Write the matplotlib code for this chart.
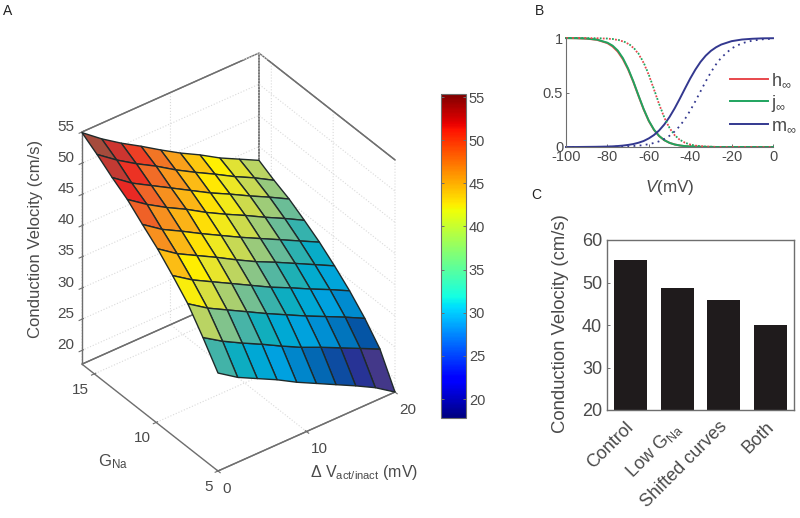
import matplotlib
matplotlib.use('Agg')
import matplotlib.pyplot as plt
from matplotlib.colors import LinearSegmentedColormap, Normalize
from matplotlib.cm import ScalarMappable
from matplotlib.transforms import ScaledTranslation
from mpl_toolkits.mplot3d import proj3d
import numpy as np

plt.rcParams['font.family'] = ['Liberation Sans', 'DejaVu Sans']
plt.rcParams['mathtext.fontset'] = 'custom'
plt.rcParams['mathtext.rm'] = 'Liberation Sans'
plt.rcParams['mathtext.it'] = 'Liberation Sans:italic'
plt.rcParams['mathtext.default'] = 'rm'
plt.rcParams['axes.unicode_minus'] = False
plt.rcParams['grid.linestyle'] = ':'
plt.rcParams['grid.color'] = '#dadada'
plt.rcParams['grid.linewidth'] = 0.8

# panel A, rows go from low GNa to high GNa
delta_v = [0, 2.22, 4.44, 6.67, 8.89, 11.11, 13.33, 15.56, 17.78, 20]
g_na = [5, 6.22, 7.44, 8.67, 9.89, 11.11, 12.33, 13.56, 14.78, 16]
velocity = [
    [33.5, 31.4, 29.8, 28.2, 26.4, 24.8, 23.2, 21.6, 19.9, 17.8],
    [37.3, 35.3, 33.6, 32.0, 30.3, 28.7, 27.3, 25.8, 24.3, 22.8],
    [40.8, 38.7, 37.0, 35.3, 33.6, 32.0, 30.4, 28.9, 27.4, 25.8],
    [43.4, 41.3, 39.6, 37.9, 36.2, 34.5, 33.0, 31.4, 29.9, 28.3],
    [45.8, 43.6, 41.9, 40.2, 38.4, 36.7, 35.2, 33.6, 32.0, 30.4],
    [47.8, 45.6, 43.9, 42.1, 40.4, 38.7, 37.1, 35.5, 33.9, 32.3],
    [49.9, 47.7, 45.8, 44.1, 42.2, 40.5, 38.9, 37.2, 35.6, 33.9],
    [51.5, 49.2, 47.4, 45.6, 43.8, 42.0, 40.4, 38.7, 37.1, 35.4],
    [53.3, 51.0, 49.0, 47.2, 45.2, 43.4, 41.7, 39.9, 38.3, 36.5],
    [54.9, 52.5, 50.4, 48.5, 46.5, 44.6, 42.9, 41.0, 39.4, 37.8],
]

# panel B
v_mv = [-100, -95, -90, -85, -80, -77.5, -75, -72.5, -70, -67.5, -65, -62.5, -60, -57.5, -55,
        -52.5, -50, -47.5, -45, -42.5, -40, -37.5, -35, -32.5, -30, -27.5, -25, -20, -15, -10, -5, 0]
h_inf = [.999, .998, .994, .983, .953, .922, .875, .805, .712, .598, .470, .345, .238, .157, .100,
         .062, .038, .023, .014, .008, .005, .003, .002, .001, .001, 0, 0, 0, 0, 0, 0, 0]
j_inf = [.999, .998, .995, .985, .957, .930, .885, .815, .720, .603, .474, .349, .241, .159, .101,
         .063, .038, .023, .014, .008, .005, .003, .002, .001, .001, 0, 0, 0, 0, 0, 0, 0]
m_inf = [0, 0, .001, .002, .004, .006, .009, .013, .019, .027, .039, .055, .079, .110, .152,
         .207, .275, .355, .444, .537, .628, .710, .781, .838, .882, .915, .940, .971, .986, .993, .997, .998]
h_shift = [1, 1, .999, .998, .994, .990, .982, .969, .947, .911, .855, .772, .661, .528, .391,
           .269, .174, .108, .065, .039, .023, .013, .0075, .004, .0025, .001, 0, 0, 0, 0, 0, 0]
j_shift = [1, 1, .999, .998, .995, .991, .984, .971, .950, .914, .858, .775, .664, .531, .394,
           .271, .176, .109, .066, .039, .023, .013, .0075, .004, .0025, .001, 0, 0, 0, 0, 0, 0]
m_shift = [0, 0, 0, .001, .001, .002, .003, .004, .006, .009, .0125, .018, .026, .037, .052,
           .074, .103, .143, .193, .258, .334, .420, .511, .602, .686, .759, .820, .905, .952, .976, .988, .994]

# panel C
conditions = ['Control', 'Low G$_{Na}$', 'Shifted curves', 'Both']
cond_velocity = [55.4, 48.7, 46.0, 40.0]

gray = '#4a4a4a'
edge = '#6e6e6e'

fig = plt.figure(figsize=(8, 5.18), dpi=100)
W, H = 800.0, 518.0

# colours of the surface cells, sampled by eye (more muted than the colorbar)
anchors = [(19.5, (75, 60, 125)), (21.5, (65, 55, 140)), (23, (35, 50, 150)), (25, (5, 85, 165)),
           (27, (0, 125, 195)), (29, (0, 160, 225)), (31.5, (0, 170, 210)), (33, (20, 175, 185)),
           (34.6, (75, 180, 165)), (36.2, (130, 195, 140)), (38, (185, 212, 100)), (40, (235, 230, 40)),
           (41.5, (255, 240, 0)), (43.5, (252, 190, 20)), (45.5, (248, 150, 30)), (47.5, (240, 105, 40)),
           (49.5, (235, 40, 35)), (51, (200, 55, 50)), (53, (165, 75, 60))]
lo, hi = anchors[0][0], anchors[-1][0]
surf_cmap = LinearSegmentedColormap.from_list(
    'surf', [((z - lo) / (hi - lo), tuple(c / 255 for c in col)) for z, col in anchors])

# panel A
ax = fig.add_axes([0.02, 0.05, 0.5, 0.5 * W / H], projection='3d', proj_type='ortho', computed_zorder=False)
ax.patch.set_alpha(0)
ax.view_init(elev=36.3, azim=-127)
ax.set_box_aspect((221.6, 226, 288), zoom=1)
ax.set_xlim(0, 20, view_margin=0)
ax.set_ylim(5, 16, view_margin=0)
ax.set_zlim(17.8, 55, view_margin=0)

# top edges of the box, the dotted grid at 55 would break up the pane outline
ax.plot([0, 20, 20], [16, 16, 5], [55, 55, 55], color=edge, lw=1.0, zorder=1)

X, Y = np.meshgrid(delta_v, g_na)
ax.plot_surface(X, Y, np.array(velocity), rstride=1, cstride=1, cmap=surf_cmap,
                norm=Normalize(lo, hi), shade=False, edgecolor='#1f2a2a', linewidth=1.0, zorder=2)

for axis in (ax.xaxis, ax.yaxis, ax.zaxis):
    axis.pane.fill = False
    axis.pane.set_alpha(1)
    axis.pane.set_edgecolor(edge)
    axis.pane.set_linewidth(1.0)
    axis.line.set_color(edge)
    axis.line.set_linewidth(1.0)
ax.set_xticks([0, 10, 20])
ax.set_yticks([5, 10, 15])
ax.set_zticks([20, 25, 30, 35, 40, 45, 50, 55])
ax.tick_params(axis='both', labelsize=11, labelcolor=gray, color=edge)
ax.tick_params(axis='x', pad=-3)
ax.tick_params(axis='y', pad=-3.5)
ax.tick_params(axis='z', pad=0)
for t in ax.xaxis.get_major_ticks():
    t.label1.set_ha('left')
for t in ax.yaxis.get_major_ticks():
    t.label1.set_ha('right')
for t in ax.zaxis.get_major_ticks():
    t.label1.set_va('baseline')


def screen(x, y, z):
    px, py, _ = proj3d.proj_transform(x, y, z, ax.get_proj())
    return ax.transData.transform((px, py))


# place the axes so the box corners land where they are in the picture
fig.canvas.draw()
a = screen(0, 5, 17.8)
b = screen(20, 5, 17.8)
pos = ax.get_position()
side = pos.width * W * (395 - 218) / (b[0] - a[0])
ax.set_position([pos.x0, pos.y0, side / W, side / H])
fig.canvas.draw()
a = screen(0, 5, 17.8)
pos = ax.get_position()
ax.set_position([pos.x0 + (218 - a[0]) / W, pos.y0 + (H - 471 - a[1]) / H, pos.width, pos.height])

fig.text(364 / W, 1 - 472 / H, 'Δ V$_{act/inact}$ (mV)', fontsize=11.5, color=gray, ha='center', va='center')
fig.text(113 / W, 1 - 462 / H, 'G$_{Na}$', fontsize=12, color=gray, ha='center', va='center')
fig.text(36 / W, 1 - 239 / H, 'Conduction Velocity (cm/s)', fontsize=12, color=gray,
         rotation=90, ha='center', va='center')

# colorbar
cax = fig.add_axes([441 / W, 1 - 418 / H, 25 / W, (418 - 94) / H])
cb = fig.colorbar(ScalarMappable(Normalize(17.8, 55.35), 'jet'), cax=cax, ticks=[20, 25, 30, 35, 40, 45, 50, 55])
cb.ax.tick_params(labelsize=10.5, labelcolor=gray, color=edge, direction='in', length=2, width=0.7,
                  left=True, pad=2)
cb.outline.set_edgecolor(edge)

# panel B
axb = fig.add_axes([566 / W, 1 - 147 / H, 207 / W, 109 / H])
axb.plot(v_mv, h_inf, color='#e8474c', lw=1.4, clip_on=False, label=r'$\mathrm{h}_{\infty}$')
axb.plot(v_mv, j_inf, color='#1fa45f', lw=1.4, clip_on=False, label=r'$\mathrm{j}_{\infty}$')
axb.plot(v_mv, m_inf, color='#33388f', lw=1.4, clip_on=False, label=r'$\mathrm{m}_{\infty}$')
axb.plot(v_mv, h_shift, color='#e8474c', lw=1.3, ls=(0, (1, 2.4)), clip_on=False)
axb.plot(v_mv, j_shift, color='#1fa45f', lw=1.3, ls=(1.7, (1, 2.4)), clip_on=False)
axb.plot(v_mv, m_shift, color='#33388f', lw=1.3, ls=(0, (1, 2.4)), clip_on=False)
axb.set_xlim(-100, 0)
axb.set_ylim(0, 1)
axb.set_xticks([-100, -80, -60, -40, -20, 0])
axb.set_yticks([0, 0.5, 1])
axb.set_yticklabels(['0', '0.5', '1'])
axb.tick_params(labelsize=10.5, labelcolor=gray, color=edge, direction='in', length=2, pad=2, width=0.7)
axb.spines['top'].set_visible(False)
axb.spines['right'].set_visible(False)
axb.spines['left'].set_color(edge)
axb.spines['bottom'].set_color(edge)
axb.set_xlabel(r'$\mathit{V}$(mV)', fontsize=12.3, color=gray, labelpad=10)
leg = axb.legend(loc='center left', bbox_to_anchor=(0.792, 0.404), frameon=False, fontsize=13, handlelength=2.1,
                 handletextpad=0.2, labelspacing=0.2, borderpad=0, borderaxespad=0, labelcolor=gray)

# panel C
axc = fig.add_axes([607 / W, 1 - 410 / H, 187 / W, 170 / H])
axc.bar(range(1, 5), cond_velocity, width=0.71, color='#1f1b1c')
axc.set_xlim(0.5, 4.5)
axc.set_ylim(20, 60)
axc.set_yticks([20, 30, 40, 50, 60])
axc.set_xticks(range(1, 5))
axc.set_xticklabels(conditions, rotation=45, ha='right', rotation_mode='anchor')
axc.tick_params(labelsize=13, labelcolor=gray, color=edge, direction='in', length=2, width=0.7)
axc.tick_params(axis='x', length=0, labelsize=13, pad=5)
for lab in axc.get_xticklabels():
    lab.set_transform(lab.get_transform() + ScaledTranslation(-4 / 72, -1 / 72, fig.dpi_scale_trans))
for s in axc.spines.values():
    s.set_color(edge)
    s.set_linewidth(1.0)
axc.set_ylabel('Conduction Velocity (cm/s)', fontsize=13.3, color=gray)
axc.yaxis.set_label_coords(-38 / 187, 0.51)

fig.text(8 / W, 1 - 11 / H, 'A', fontsize=10, color='#222222', ha='center', va='center')
fig.text(539 / W, 1 - 11 / H, 'B', fontsize=10, color='#222222', ha='center', va='center')
fig.text(536 / W, 1 - 195 / H, 'C', fontsize=10, color='#222222', ha='center', va='center')

fig.savefig('out.png', dpi=100)
